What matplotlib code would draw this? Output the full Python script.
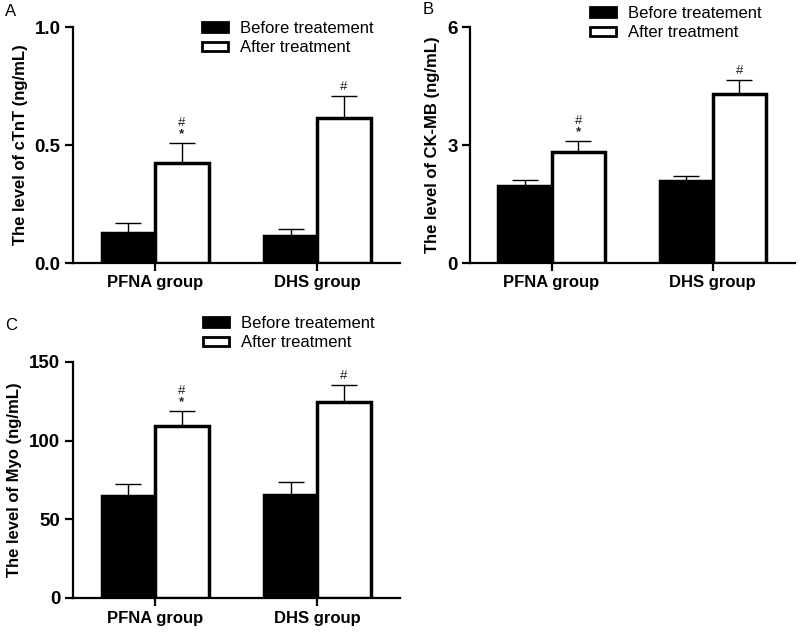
import matplotlib
matplotlib.use("Agg")
import matplotlib.pyplot as plt
import numpy as np
from matplotlib.patches import Patch

plt.rcParams["font.family"] = ["Liberation Sans", "DejaVu Sans"]

groups = ["PFNA group", "DHS group"]
series = ["Before treatement", "After treatment"]

ctnt_before = [0.127, 0.115]
ctnt_before_err = [0.042, 0.031]
ctnt_after = [0.423, 0.615]
ctnt_after_err = [0.084, 0.093]

ckmb_before = [1.97, 2.08]
ckmb_before_err = [0.15, 0.14]
ckmb_after = [2.83, 4.30]
ckmb_after_err = [0.27, 0.35]

myo_before = [64.6, 65.7]
myo_before_err = [7.6, 8.0]
myo_after = [109.1, 124.6]
myo_after_err = [9.9, 10.8]

# significance marks above the "after" bars
marks = [["#", "*"], ["#"]]

W, H = 800, 636
LW = 2.5


def draw_panel(ax, before, b_err, after, a_err, ylim, yticks, yticklabels, ylabel):
    x = np.arange(len(groups))
    w = 0.33
    ax.bar(x - w / 2, before, w, color="black", edgecolor="black", linewidth=LW, zorder=3)
    ax.bar(x + w / 2, after, w, color="white", edgecolor="black", linewidth=LW, zorder=3)
    ax.errorbar(x - w / 2, before, yerr=[np.zeros(len(before)), b_err], fmt="none",
                ecolor="black", elinewidth=1.0, capsize=9.5, capthick=1.0, zorder=2)
    ax.errorbar(x + w / 2, after, yerr=[np.zeros(len(after)), a_err], fmt="none",
                ecolor="black", elinewidth=1.0, capsize=9.5, capthick=1.0, zorder=2)
    for i, mk in enumerate(marks):
        top = after[i] + a_err[i]
        for j, m in enumerate(reversed(mk)):
            ax.annotate(m, (x[i] + w / 2, top), xytext=(0, 2 + 8 * j),
                        textcoords="offset points", ha="center", va="bottom",
                        fontsize=9.5, fontweight="bold" if m == "*" else "normal",
                        color="#222222")
    ax.set_xlim(-0.506, 1.51)
    ax.set_ylim(*ylim)
    ax.set_yticks(yticks)
    ax.set_yticklabels(yticklabels, fontsize=13.5, fontweight="bold")
    ax.set_xticks(x)
    ax.set_xticklabels(groups, fontsize=12, fontweight="bold")
    ax.set_ylabel(ylabel, fontsize=12, fontweight="bold", labelpad=5)
    for s in ["top", "right"]:
        ax.spines[s].set_visible(False)
    for s in ["left", "bottom"]:
        ax.spines[s].set_linewidth(1.6)
    ax.tick_params(axis="both", direction="out", length=6, width=1.6, pad=3)


def add_legend(fig, x_px, y_px):
    handles = [Patch(facecolor="black", edgecolor="black", linewidth=2),
               Patch(facecolor="white", edgecolor="black", linewidth=2)]
    fig.legend(handles, series, loc="upper left",
               bbox_to_anchor=(x_px / W, 1 - y_px / H), bbox_transform=fig.transFigure,
               frameon=False, fontsize=12, borderpad=0, borderaxespad=0,
               handlelength=1.55, handleheight=0.5, handletextpad=0.75, labelspacing=0.25)


fig = plt.figure(figsize=(W / 100, H / 100), dpi=100)

ax_a = fig.add_axes([73 / W, 1 - 263 / H, 327 / W, 236 / H])
draw_panel(ax_a, ctnt_before, ctnt_before_err, ctnt_after, ctnt_after_err,
           (0, 1.0), [0, 0.5, 1.0], ["0.0", "0.5", "1.0"], "The level of cTnT (ng/mL)")

ax_b = fig.add_axes([470 / W, 1 - 263 / H, 325 / W, 236 / H])
draw_panel(ax_b, ckmb_before, ckmb_before_err, ckmb_after, ckmb_after_err,
           (0, 6), [0, 3, 6], ["0", "3", "6"], "The level of CK-MB (ng/mL)")

ax_c = fig.add_axes([73 / W, 1 - 598 / H, 327 / W, 236 / H])
draw_panel(ax_c, myo_before, myo_before_err, myo_after, myo_after_err,
           (0, 150), [0, 50, 100, 150], ["0", "50", "100", "150"], "The level of Myo (ng/mL)")

add_legend(fig, 202, 21)
add_legend(fig, 590, 6)
add_legend(fig, 203, 316)

fig.text(5 / W, 1 - 12 / H, "A", fontsize=12, va="center", ha="left")
fig.text(423 / W, 1 - 10 / H, "B", fontsize=12, va="center", ha="left")
fig.text(5 / W, 1 - 325 / H, "C", fontsize=12, va="center", ha="left")

fig.savefig("out.png", dpi=100)
